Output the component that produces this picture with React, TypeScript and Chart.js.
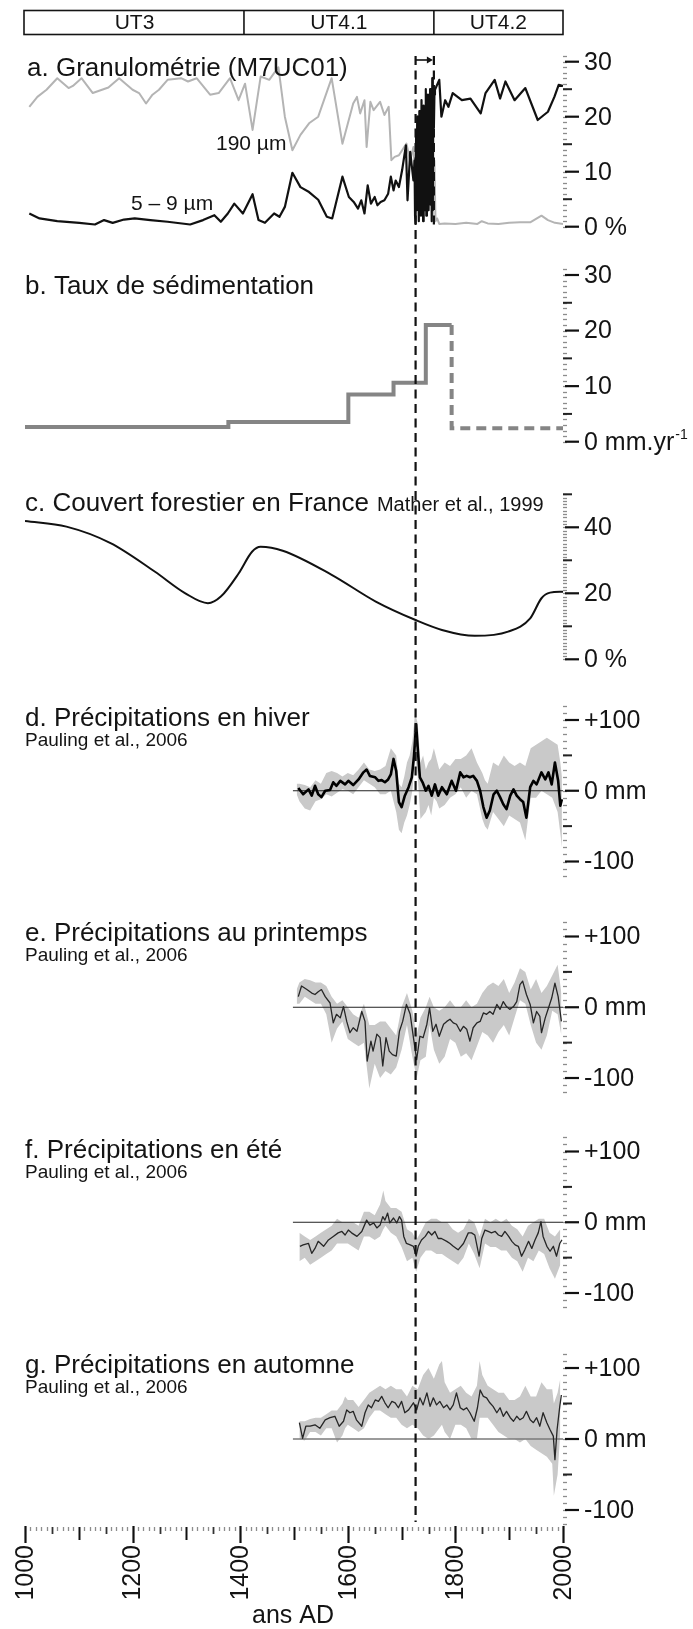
import React, { useEffect, useRef } from 'react';
import { Chart, registerables } from 'chart.js';

Chart.register(...registerables);

const FONT = '"Liberation Sans", Arial, Helvetica, sans-serif';

// ---------------- Data ----------------
const unitNames = ['UT3', 'UT4.1', 'UT4.2'];
const unitLimits = [1000, 1407, 1760, 2000];
const markerYear = 1726;
const markerYear2 = 1760;

// a. Granulométrie (%)
const coarseYears = [1008, 1023, 1040, 1060, 1081, 1089, 1105, 1126, 1155, 1175, 1200, 1212, 1225, 1237, 1249, 1265, 1290, 1303, 1319, 1344, 1360, 1381, 1397, 1409, 1423, 1438, 1454, 1471, 1483, 1497, 1512, 1528, 1545, 1570, 1590, 1610, 1617, 1623, 1631, 1635, 1642, 1648, 1660, 1668, 1676, 1681, 1687, 1695, 1709, 1716, 1722, 1726, 1730, 1734, 1738, 1742, 1746, 1750, 1754, 1758, 1761, 1763, 1766, 1770, 1780, 1800, 1820, 1841, 1849, 1860, 1880, 1900, 1920, 1939, 1960, 1972, 1985, 2000];
const coarseValues = [21.8, 23.6, 24.9, 27, 25.2, 25.6, 27, 24.3, 25.3, 27, 24.9, 24.3, 22.4, 24, 24.9, 26.7, 27, 26.4, 27, 24, 24.3, 27, 23, 26, 17.6, 27.3, 26.7, 29, 20, 13.9, 16.7, 18.8, 20, 27, 15.1, 22.4, 23.6, 20.6, 23, 14.5, 22.7, 21.2, 22.7, 20.3, 21.8, 12.1, 12.7, 13, 15.1, 12, 14.5, 8, 16, 4, 18, 5, 12, 3, 8, 2, 12, 1, 1.5, 0.5, 0.6, 0.5, 0.7, 0.5, 1, 0.6, 0.5, 0.7, 0.8, 0.8, 2, 1.2, 0.7, 0.5];

const fineYears = [1008, 1027, 1060, 1101, 1130, 1147, 1163, 1184, 1204, 1233, 1265, 1307, 1331, 1352, 1364, 1377, 1389, 1405, 1423, 1434, 1446, 1463, 1473, 1483, 1497, 1512, 1528, 1545, 1561, 1571, 1590, 1602, 1611, 1619, 1625, 1631, 1637, 1643, 1650, 1655, 1661, 1668, 1675, 1680, 1685, 1689, 1695, 1701, 1708, 1711, 1716, 1722, 1724, 1725, 1726, 1727, 1728, 1729, 1730, 1731, 1732, 1733, 1734, 1735, 1736, 1737, 1738, 1739, 1740, 1741, 1742, 1743, 1744, 1745, 1746, 1747, 1748, 1749, 1750, 1751, 1752, 1753, 1754, 1755, 1756, 1757, 1758, 1759, 1760, 1761, 1762, 1770, 1774, 1781, 1787, 1795, 1812, 1828, 1847, 1856, 1873, 1883, 1893, 1910, 1930, 1953, 1972, 1984, 1992, 2000];
const fineValues = [2.4, 1.5, 1.0, 0.7, 0.4, 1.2, 0.7, 1.3, 1.5, 1.2, 0.9, 0.4, 1.2, 2.1, 0.9, 2.4, 4.2, 2.4, 5.9, 1.2, 0.7, 2.4, 1.8, 3.6, 9.8, 7.2, 6.3, 4.9, 1.8, 1.5, 9.1, 5.4, 4.5, 3.3, 4.8, 2.4, 7.5, 4.2, 5.4, 3.9, 4.5, 4.8, 6.0, 9.1, 6.6, 8.4, 7.2, 10.3, 14.8, 4.8, 13.6, 8.4, 12, 2, 0.5, 17, 3, 20, 6, 15, 1, 21, 4, 18, 2, 23, 7, 16, 1, 22, 3, 20, 9, 25, 2, 19, 5, 24, 3, 21, 11, 25, 4, 23, 1, 27, 3, 25, 18, 24, 24.9, 26.7, 20, 23, 21.8, 24.3, 23, 23.3, 20.6, 24.3, 26.7, 23.3, 26.4, 23, 25.2, 19.4, 20.9, 23.6, 25.8, 25.6];

// b. Taux de sédimentation (mm/yr)
const sedSolidYears = [1000, 1378, 1378, 1601, 1601, 1685, 1685, 1745, 1745, 1793];
const sedSolidValues = [2.65, 2.65, 3.55, 3.55, 8.5, 8.5, 10.6, 10.6, 21, 21];
const sedDashedYears = [1793, 1793, 2000];
const sedDashedValues = [21, 2.4, 2.4];

// c. Couvert forestier (%)
const forestYears = [1000, 1077, 1159, 1241, 1298, 1340, 1364, 1397, 1422, 1438, 1479, 1570, 1652, 1726, 1775, 1836, 1898, 1939, 1960, 1976, 2000];
const forestValues = [41.9, 40.2, 35.2, 26.6, 20, 17, 19, 26, 32.6, 34.1, 32.9, 25.6, 17.5, 11.9, 8.9, 7.1, 8.4, 12.4, 18.5, 20.2, 20.5];

// d. Winter precipitation anomalies (mm)
const winterYears = [1508, 1517, 1527, 1533, 1539, 1545, 1551, 1558, 1567, 1573, 1579, 1586, 1595, 1601, 1610, 1620, 1629, 1635, 1641, 1651, 1657, 1663, 1669, 1675, 1680, 1685, 1690, 1695, 1700, 1706, 1713, 1719, 1723, 1727, 1731, 1734, 1739, 1745, 1750, 1756, 1762, 1768, 1775, 1784, 1793, 1801, 1809, 1815, 1821, 1827, 1833, 1840, 1846, 1852, 1858, 1864, 1871, 1877, 1883, 1889, 1895, 1902, 1908, 1914, 1920, 1926, 1932, 1939, 1945, 1951, 1960, 1967, 1973, 1979, 1985, 1991, 1995, 1998];
const winterValues = [4, -5, 2, -7, 7, -5, -9, 0, 1, 12, 7, 14, 9, 14, 8, 16, 26, 30, 21, 19, 14, 15, 12, 16, 23, 45, 28, -16, -23, -7, 5, 19, 49, 94, 49, 19, 12, 0, 7, -7, 9, -7, 5, -5, 14, 0, 26, 19, 21, 19, 21, 14, 0, -23, -38, -28, -5, 0, -9, -19, -26, -7, 2, -7, -12, -16, -38, 5, 14, 9, 26, 16, 26, 9, 40, 14, -21, -12];
const winterBandYears = [1505, 1510, 1520, 1530, 1540, 1550, 1560, 1570, 1580, 1590, 1600, 1610, 1620, 1630, 1640, 1650, 1660, 1670, 1680, 1690, 1695, 1700, 1705, 1710, 1715, 1720, 1725, 1730, 1735, 1740, 1745, 1750, 1755, 1760, 1765, 1770, 1780, 1790, 1800, 1810, 1820, 1830, 1840, 1850, 1855, 1860, 1870, 1880, 1890, 1900, 1910, 1920, 1930, 1940, 1950, 1960, 1970, 1980, 1990, 1995, 1998];
const winterUpper = [10, 10, 8, 5, 15, 10, 25, 28, 25, 20, 25, 22, 30, 40, 30, 28, 30, 35, 60, 50, 10, 5, 20, 40, 50, 70, 110, 95, 40, 50, 30, 40, 45, 60, 45, 30, 40, 35, 45, 45, 50, 60, 40, 25, 15, 10, 40, 35, 50, 40, 35, 40, 35, 60, 65, 70, 75, 70, 65, 40, 20];
const winterLower = [-5, -15, -25, -28, -15, -12, -5, -8, -3, 2, 0, -5, 5, 15, 10, 5, -5, -5, 0, -30, -55, -60, -45, -35, -20, 0, 50, 20, -40, -35, -30, -20, -35, -10, -15, -25, -20, -10, -5, 5, -10, 0, -5, -40, -50, -55, -30, -40, -50, -35, -40, -45, -70, -10, -10, 0, -5, -10, -30, -60, -80];

// e. Spring
const springYears = [1508, 1514, 1524, 1533, 1539, 1545, 1551, 1558, 1567, 1573, 1579, 1586, 1592, 1598, 1604, 1610, 1617, 1626, 1632, 1636, 1643, 1647, 1654, 1660, 1665, 1671, 1677, 1683, 1690, 1696, 1702, 1709, 1716, 1722, 1728, 1734, 1740, 1747, 1752, 1758, 1764, 1770, 1778, 1784, 1790, 1796, 1802, 1809, 1815, 1821, 1827, 1833, 1840, 1846, 1852, 1858, 1864, 1870, 1877, 1883, 1889, 1895, 1901, 1908, 1914, 1920, 1925, 1932, 1939, 1945, 1951, 1957, 1960, 1967, 1973, 1979, 1985, 1991, 1997];
const springValues = [15, 30, 25, 20, 18, 22, 25, 15, 6, -22, -10, -15, 1, -20, -36, -29, -34, -6, -20, -76, -48, -62, -38, -43, -83, -43, -62, -67, -69, -34, -20, 4, -10, -43, -74, -41, -43, -24, -1, -34, -24, -41, -24, -20, -17, -22, -24, -34, -27, -31, -48, -29, -22, -20, -8, -10, -6, -10, 4, -3, 8, 1, -3, 1, 8, 32, 37, 18, 4, -22, -6, -13, -36, -15, -1, 13, 34, 15, -20];
const springBandYears = [1505, 1510, 1520, 1530, 1540, 1550, 1560, 1570, 1580, 1590, 1600, 1610, 1620, 1630, 1640, 1650, 1660, 1670, 1680, 1690, 1700, 1710, 1720, 1728, 1735, 1745, 1752, 1760, 1770, 1780, 1790, 1800, 1810, 1820, 1830, 1840, 1850, 1860, 1870, 1880, 1890, 1900, 1910, 1920, 1930, 1940, 1950, 1960, 1970, 1980, 1990, 1997];
const springUpper = [25, 35, 40, 38, 35, 35, 30, 15, 5, 10, 0, -10, -15, 5, -25, -25, -20, -20, -30, -40, 0, 20, -5, -40, -15, 0, 15, 0, -5, 0, 10, 0, 0, 10, 0, 5, 20, 30, 35, 30, 40, 20, 35, 55, 50, 25, 40, 20, 30, 45, 60, 20];
const springLower = [5, 5, 15, 10, 5, 5, -10, -50, -30, -20, -45, -50, -55, -50, -115, -80, -100, -90, -95, -85, -60, -25, -70, -100, -75, -70, -25, -60, -80, -70, -45, -50, -70, -65, -75, -55, -35, -40, -50, -35, -25, -40, -15, 10, 5, -25, -50, -60, -40, -5, -10, -40];

// f. Summer
const summerYears = [1511, 1517, 1527, 1533, 1539, 1545, 1555, 1564, 1573, 1582, 1589, 1595, 1601, 1607, 1617, 1626, 1635, 1641, 1648, 1654, 1660, 1665, 1669, 1674, 1678, 1685, 1691, 1696, 1700, 1704, 1709, 1716, 1722, 1727, 1731, 1737, 1744, 1750, 1756, 1762, 1768, 1774, 1784, 1790, 1796, 1805, 1815, 1824, 1830, 1836, 1844, 1849, 1855, 1861, 1867, 1874, 1880, 1886, 1892, 1899, 1905, 1911, 1917, 1923, 1929, 1936, 1942, 1948, 1954, 1959, 1963, 1970, 1976, 1982, 1988, 1994, 1998];
const summerValues = [-34, -32, -30, -44, -37, -27, -34, -25, -20, -15, -13, -18, -11, -15, -20, -13, 3, -4, -1, -8, -4, 8, 3, 13, -1, 6, -1, 8, 3, -20, -30, -32, -34, -48, -34, -25, -20, -13, -18, -13, -23, -23, -27, -30, -34, -39, -30, -15, -15, -18, -48, -23, -11, -13, -15, -13, -18, -20, -13, -20, -27, -32, -34, -48, -39, -27, -37, -25, -15, 1, -20, -34, -41, -34, -48, -30, -25];
const summerBandYears = [1510, 1520, 1530, 1540, 1550, 1560, 1570, 1580, 1590, 1600, 1610, 1620, 1630, 1640, 1650, 1660, 1666, 1670, 1680, 1690, 1700, 1710, 1720, 1727, 1735, 1745, 1755, 1765, 1775, 1785, 1795, 1805, 1815, 1825, 1835, 1845, 1855, 1865, 1875, 1885, 1895, 1905, 1915, 1925, 1935, 1945, 1955, 1965, 1975, 1985, 1995];
const summerUpper = [-15, -20, -25, -20, -15, -10, -5, 5, 0, 0, 0, -5, 15, 15, 10, 25, 45, 30, 20, 20, 15, -10, -15, -25, -15, 0, 5, 5, 0, 0, -10, -15, -10, 5, 0, -20, 5, 0, 5, 0, 5, -5, -10, -20, -5, 0, 5, 5, -15, -20, -10];
const summerLower = [-55, -50, -60, -55, -50, -45, -40, -30, -30, -30, -35, -40, -20, -20, -25, -20, -10, -5, -15, -20, -35, -55, -50, -70, -50, -40, -40, -45, -45, -50, -55, -60, -50, -30, -45, -65, -30, -35, -35, -40, -40, -50, -55, -70, -50, -55, -40, -45, -65, -80, -60];

// g. Autumn
const autumnYears = [1510, 1516, 1522, 1530, 1539, 1548, 1558, 1567, 1576, 1584, 1592, 1598, 1604, 1610, 1616, 1626, 1632, 1638, 1644, 1651, 1657, 1663, 1669, 1675, 1682, 1688, 1694, 1700, 1706, 1713, 1722, 1728, 1734, 1740, 1747, 1753, 1759, 1765, 1771, 1778, 1784, 1790, 1796, 1802, 1809, 1815, 1821, 1827, 1835, 1841, 1846, 1852, 1858, 1864, 1870, 1877, 1883, 1889, 1895, 1902, 1908, 1914, 1920, 1926, 1932, 1939, 1945, 1951, 1957, 1963, 1970, 1976, 1982, 1985, 1989, 1994, 1997];
const autumnValues = [23, 1, 18, 18, 20, 15, 27, 30, 32, 18, 25, 41, 37, 39, 27, 18, 37, 48, 44, 55, 53, 60, 51, 44, 53, 51, 44, 53, 37, 41, 51, 41, 58, 48, 65, 46, 58, 48, 53, 44, 48, 41, 48, 65, 44, 41, 44, 37, 25, 44, 69, 60, 58, 51, 46, 37, 44, 32, 39, 30, 25, 32, 27, 30, 39, 27, 23, 30, 18, 37, 23, 13, 4, -29, 13, 46, 62];
const autumnBandYears = [1510, 1520, 1530, 1540, 1550, 1560, 1570, 1580, 1590, 1595, 1600, 1610, 1620, 1630, 1640, 1650, 1660, 1670, 1680, 1690, 1700, 1710, 1720, 1730, 1740, 1750, 1760, 1770, 1775, 1780, 1790, 1800, 1810, 1820, 1830, 1840, 1845, 1850, 1860, 1870, 1880, 1890, 1900, 1910, 1920, 1930, 1940, 1950, 1960, 1970, 1980, 1983, 1990, 1995];
const autumnUpper = [25, 25, 28, 30, 30, 35, 40, 40, 50, 60, 55, 55, 45, 55, 65, 70, 75, 70, 75, 70, 70, 60, 75, 70, 90, 100, 85, 105, 110, 80, 65, 70, 75, 65, 60, 75, 110, 90, 75, 70, 65, 65, 55, 55, 60, 75, 60, 60, 80, 70, 70, 50, 65, 85];
const autumnLower = [0, -2, 10, 10, 5, 15, 15, -5, 5, 15, 20, 15, 10, 15, 30, 40, 40, 35, 30, 30, 20, 15, 20, 15, 5, 0, 5, 15, 20, 10, 0, 20, 20, 15, 0, 0, 30, 30, 30, 20, 10, 5, 0, 0, -5, 0, -10, -15, -20, -25, -35, -80, -50, 10];

const zeroLineYears = [1498, 2000];
const zeroLineValues = [0, 0];

// Tick values / labels
const yearTicks = [1000, 1200, 1400, 1600, 1800, 2000];
const grainTicks = [0, 10, 20, 30];
const grainTickLabels = ['0 %', '10', '20', '30'];
const sedTicks = [0, 10, 20, 30];
const sedTickLabels = ['0 mm.yr', '10', '20', '30'];
const forestTicks = [0, 20, 40];
const forestTickLabels = ['0 %', '20', '40'];
const precipTicks = [-100, 0, 100];
const precipTickLabels = ['-100', '0 mm', '+100'];

// ---------------- Layout (pixels) ----------------
const AREA_TOP = 0;
const AREA_BOTTOM = 1527;

type AxisSpec = {
  id: string; v0: number; p0: number; v1: number; p1: number;
  lo: number; hi: number; step: number; medium: number[];
  ticks: number[]; labels: string[]; sup?: boolean;
};

const axes: AxisSpec[] = [
  { id: 'ya', v0: 0, p0: 226.7, v1: 30, p1: 61.7, lo: 0, hi: 31, step: 1, medium: [5, 15, 25], ticks: grainTicks, labels: grainTickLabels },
  { id: 'yb', v0: 0, p0: 441.7, v1: 30, p1: 275, lo: 0, hi: 31, step: 1, medium: [5, 15, 25], ticks: sedTicks, labels: sedTickLabels, sup: true },
  { id: 'yc', v0: 0, p0: 659.3, v1: 40, p1: 527.3, lo: 0, hi: 50, step: 1, medium: [10, 30, 50], ticks: forestTicks, labels: forestTickLabels },
  { id: 'yd', v0: -100, p0: 861.5, v1: 100, p1: 720, lo: -120, hi: 120, step: 10, medium: [-50, 50], ticks: precipTicks, labels: precipTickLabels },
  { id: 'ye', v0: -100, p0: 1078, v1: 100, p1: 936.5, lo: -120, hi: 120, step: 10, medium: [-50, 50], ticks: precipTicks, labels: precipTickLabels },
  { id: 'yf', v0: -100, p0: 1293, v1: 100, p1: 1151.5, lo: -120, hi: 120, step: 10, medium: [-50, 50], ticks: precipTicks, labels: precipTickLabels },
  { id: 'yg', v0: -100, p0: 1510, v1: 100, p1: 1368, lo: -120, hi: 120, step: 10, medium: [-50, 50], ticks: precipTicks, labels: precipTickLabels },
];

const titles = [
  { text: 'a. Granulométrie (M7UC01)', x: 27, y: 69 },
  { text: 'b. Taux de sédimentation', x: 25, y: 287 },
  { text: 'c. Couvert forestier en France', x: 25, y: 504, note: 'Mather et al., 1999' },
  { text: 'd. Précipitations en hiver', x: 25, y: 719, sub: 'Pauling et al., 2006', subY: 741 },
  { text: 'e. Précipitations au printemps', x: 25, y: 934, sub: 'Pauling et al., 2006', subY: 956 },
  { text: 'f. Précipitations en été', x: 25, y: 1151, sub: 'Pauling et al., 2006', subY: 1173 },
  { text: 'g. Précipitations en automne', x: 25, y: 1366, sub: 'Pauling et al., 2006', subY: 1388 },
];

function scaleRange(a: AxisSpec) {
  const k = (a.p0 - a.p1) / (a.v1 - a.v0);
  return { min: a.v0 - (AREA_BOTTOM - a.p0) / k, max: a.v1 + (a.p1 - AREA_TOP) / k };
}

function pts(xs: number[], ys: number[]) {
  return xs.map((x, i) => ({ x, y: ys[i] }));
}

const BAND = '#c9c9c9';

function precipDatasets(id: string, yrs: number[], vals: number[], by: number[], up: number[], lo: number[], thick: boolean, zeroColor: string, zeroWidth: number) {
  return [
    { data: pts(yrs, vals), yAxisID: id, borderColor: thick ? '#000' : '#262626', borderWidth: thick ? 2.6 : 1.3, order: 0 },
    { data: pts(zeroLineYears, zeroLineValues), yAxisID: id, borderColor: zeroColor, borderWidth: zeroWidth, order: 1 },
    { data: pts(by, up), yAxisID: id, borderColor: 'rgba(0,0,0,0)', borderWidth: 0, backgroundColor: BAND, fill: '+1', order: 2 },
    { data: pts(by, lo), yAxisID: id, borderColor: 'rgba(0,0,0,0)', borderWidth: 0, fill: false, order: 2 },
  ];
}

const decorPlugin = {
  id: 'decor',
  afterDatasetsDraw(chart: any) {
    const ctx: CanvasRenderingContext2D = chart.ctx;
    const xs = chart.scales.x;
    const px = (v: number) => xs.getPixelForValue(v);
    ctx.save();
    ctx.fillStyle = '#141414';
    ctx.strokeStyle = '#141414';

    // Unit bar
    const bx0 = px(unitLimits[0]) - 1;
    const bx1 = px(unitLimits[unitLimits.length - 1]);
    ctx.lineWidth = 1.6;
    ctx.strokeRect(bx0, 10.5, bx1 - bx0, 24);
    for (let i = 1; i < unitLimits.length - 1; i++) {
      const x = px(unitLimits[i]);
      ctx.beginPath(); ctx.moveTo(x, 10.5); ctx.lineTo(x, 34.5); ctx.stroke();
    }
    ctx.font = `21px ${FONT}`;
    ctx.textAlign = 'center';
    ctx.textBaseline = 'middle';
    unitNames.forEach((n, i) => {
      ctx.fillText(n, (px(unitLimits[i]) + px(unitLimits[i + 1])) / 2, 23.5);
    });

    // Titles
    ctx.textAlign = 'left';
    titles.forEach((t: any) => {
      ctx.font = `26px ${FONT}`;
      ctx.fillText(t.text, t.x, t.y);
      if (t.note) {
        const w = ctx.measureText(t.text).width;
        ctx.font = `20px ${FONT}`;
        ctx.fillText(t.note, t.x + w + 8, t.y + 1);
      }
      if (t.sub) {
        ctx.font = `19px ${FONT}`;
        ctx.fillText(t.sub, t.x, t.subY);
      }
    });

    // Series labels for panel a
    ctx.font = `21px ${FONT}`;
    ctx.fillText('190 µm', 216, 144);
    ctx.fillText('5 – 9 µm', 131, 204);

    // Right axes
    const ax = px(2000);
    axes.forEach((a) => {
      const s = chart.scales[a.id];
      ctx.strokeStyle = '#8c8c8c';
      ctx.lineWidth = 1.3;
      for (let v = a.lo; v <= a.hi + 1e-9; v += a.step) {
        const y = Math.round(s.getPixelForValue(v)) + 0.5;
        ctx.beginPath(); ctx.moveTo(ax, y); ctx.lineTo(ax + 4, y); ctx.stroke();
      }
      ctx.strokeStyle = '#222';
      ctx.lineWidth = 2;
      a.medium.forEach((v) => {
        const y = s.getPixelForValue(v);
        ctx.beginPath(); ctx.moveTo(ax, y); ctx.lineTo(ax + 9, y); ctx.stroke();
      });
      ctx.strokeStyle = '#111';
      ctx.lineWidth = 2.2;
      ctx.font = `25px ${FONT}`;
      ctx.textAlign = 'left';
      ctx.textBaseline = 'middle';
      a.ticks.forEach((v, i) => {
        const y = s.getPixelForValue(v);
        ctx.beginPath(); ctx.moveTo(ax + 2, y); ctx.lineTo(ax + 16, y); ctx.stroke();
        const lbl = a.labels[i];
        ctx.fillText(lbl, ax + 21, y + 1);
        if (a.sup && i === 0) {
          const w = ctx.measureText(lbl).width;
          ctx.font = `14px ${FONT}`;
          ctx.fillText('-1', ax + 21 + w + 1, y - 7);
          ctx.font = `25px ${FONT}`;
        }
      });
    });

    // X axis
    const y0 = AREA_BOTTOM;
    for (let v = 1000; v <= 2000; v += 10) {
      const x = Math.round(px(v)) + 0.5;
      ctx.beginPath();
      if (v % 200 === 0) {
        ctx.strokeStyle = '#111'; ctx.lineWidth = 2.2;
        ctx.moveTo(x, y0 - 1); ctx.lineTo(x, y0 + 16);
      } else if (v % 100 === 0) {
        ctx.strokeStyle = '#111'; ctx.lineWidth = 2;
        ctx.moveTo(x, y0); ctx.lineTo(x, y0 + 13);
      } else if (v % 50 === 0) {
        ctx.strokeStyle = '#333'; ctx.lineWidth = 1.8;
        ctx.moveTo(x, y0); ctx.lineTo(x, y0 + 7);
      } else {
        ctx.strokeStyle = '#8c8c8c'; ctx.lineWidth = 1.3;
        ctx.moveTo(x, y0); ctx.lineTo(x, y0 + 4);
      }
      ctx.stroke();
    }
    ctx.font = `25px ${FONT}`;
    yearTicks.forEach((v) => {
      ctx.save();
      ctx.translate(px(v), y0 + 18);
      ctx.rotate(-Math.PI / 2);
      ctx.textAlign = 'right';
      ctx.textBaseline = 'middle';
      ctx.fillText(String(v), 0, 1);
      ctx.restore();
    });
    ctx.textAlign = 'center';
    ctx.textBaseline = 'middle';
    ctx.fillText('ans AD', 293, 1616);

    // Dashed marker lines
    ctx.strokeStyle = '#111';
    ctx.lineWidth = 2.2;
    ctx.setLineDash([9, 5.5]);
    const mx = px(markerYear);
    ctx.beginPath(); ctx.moveTo(mx, 56); ctx.lineTo(mx, 1522); ctx.stroke();
    const mx2 = px(markerYear2);
    ctx.beginPath(); ctx.moveTo(mx2, 56); ctx.lineTo(mx2, 228); ctx.stroke();
    ctx.setLineDash([]);
    // arrow
    ctx.lineWidth = 1.6;
    ctx.beginPath(); ctx.moveTo(mx, 60); ctx.lineTo(mx2 - 5, 60); ctx.stroke();
    ctx.beginPath();
    ctx.moveTo(mx2 - 1, 60); ctx.lineTo(mx2 - 7, 56.5); ctx.lineTo(mx2 - 7, 63.5); ctx.closePath(); ctx.fill();

    ctx.restore();
  },
};

export default function App() {
  const ref = useRef<HTMLCanvasElement>(null);

  useEffect(() => {
    const scales: any = {
      x: { type: 'linear', min: 1000, max: 2000, display: false, bounds: 'data' },
    };
    axes.forEach((a) => {
      const r = scaleRange(a);
      scales[a.id] = { type: 'linear', display: false, bounds: 'data', min: r.min, max: r.max };
    });

    const datasets: any[] = [
      { data: pts(fineYears, fineValues), yAxisID: 'ya', borderColor: '#111', borderWidth: 2.2, order: 0 },
      { data: pts(coarseYears, coarseValues), yAxisID: 'ya', borderColor: '#b4b4b4', borderWidth: 2, order: 1 },
      { data: pts(sedSolidYears, sedSolidValues), yAxisID: 'yb', borderColor: '#858585', borderWidth: 4, borderJoinStyle: 'miter', order: 0 },
      { data: pts(sedDashedYears, sedDashedValues), yAxisID: 'yb', borderColor: '#858585', borderWidth: 4, borderDash: [10, 6], borderJoinStyle: 'miter', order: 0 },
      { data: pts(forestYears, forestValues), yAxisID: 'yc', borderColor: '#111', borderWidth: 2, cubicInterpolationMode: 'monotone', order: 0 },
      ...precipDatasets('yd', winterYears, winterValues, winterBandYears, winterUpper, winterLower, true, '#222', 1),
      ...precipDatasets('ye', springYears, springValues, springBandYears, springUpper, springLower, false, '#222', 1),
      ...precipDatasets('yf', summerYears, summerValues, summerBandYears, summerUpper, summerLower, false, '#222', 1),
      ...precipDatasets('yg', autumnYears, autumnValues, autumnBandYears, autumnUpper, autumnLower, false, '#7a7a7a', 1.6),
    ];

    const chart = new Chart(ref.current as HTMLCanvasElement, {
      type: 'line',
      data: { datasets },
      options: {
        animation: false,
        responsive: false,
        devicePixelRatio: 1,
        events: [],
        layout: { padding: { left: 25, right: 130, top: AREA_TOP, bottom: 1629 - AREA_BOTTOM } },
        elements: {
          point: { radius: 0, hoverRadius: 0 },
          line: { tension: 0, borderJoinStyle: 'round', fill: false },
        },
        plugins: {
          legend: { display: false },
          tooltip: { enabled: false },
          title: { display: false },
        },
        scales,
      } as any,
      plugins: [decorPlugin],
    });
    return () => chart.destroy();
  }, []);

  return (
    <div style={{ position: 'absolute', left: 0, top: 0, width: 693, height: 1629, background: '#fff' }}>
      <canvas ref={ref} width={693} height={1629} style={{ display: 'block', width: 693, height: 1629 }} />
    </div>
  );
}
